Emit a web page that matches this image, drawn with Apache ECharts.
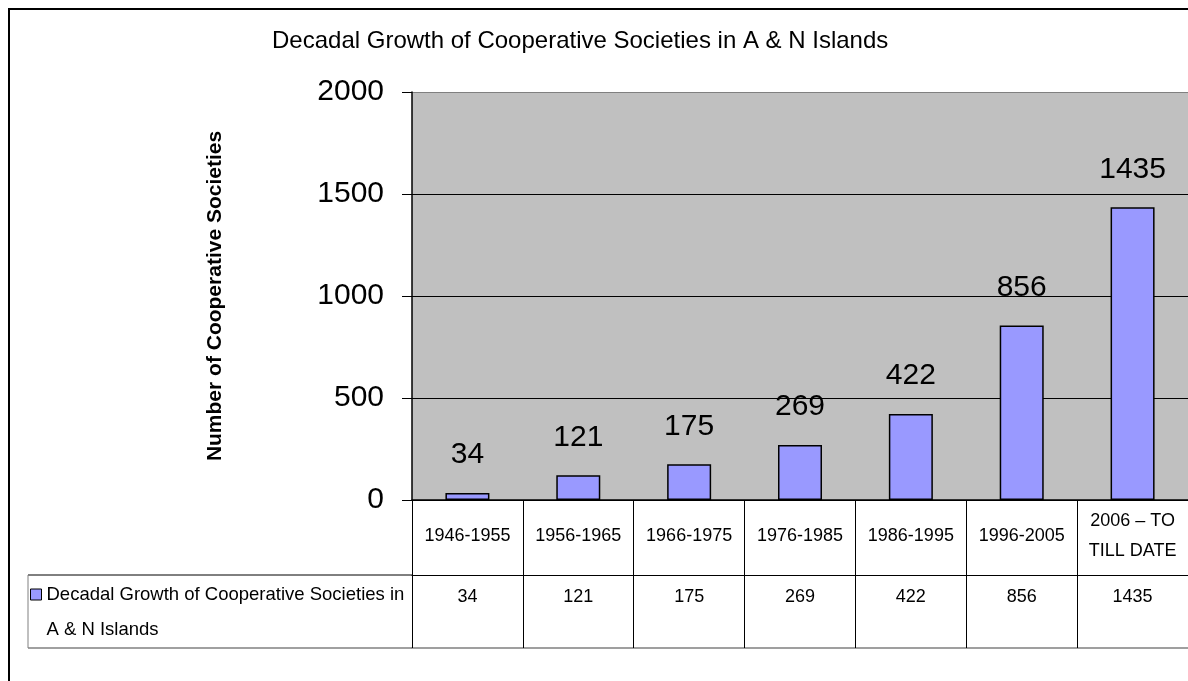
<!DOCTYPE html>
<html>
<head>
<meta charset="utf-8">
<script src="https://cdn.jsdelivr.net/npm/echarts@6/dist/echarts.min.js"></script>
<style>html,body{margin:0;padding:0;background:#fff;}#c{width:1188px;height:681px;}</style>
</head>
<body>
<div id="c"></div>
<script>
const titleText = 'Decadal Growth of Cooperative Societies in A & N Islands';
const seriesName = 'Decadal Growth of Cooperative Societies in A & N Islands';
const yAxisName = 'Number of Cooperative Societies';
const categories = ['1946-1955', '1956-1965', '1966-1975', '1976-1985', '1986-1995', '1996-2005', '2006 \u2013 TO\nTILL DATE'];
const values = [34, 121, 175, 269, 422, 856, 1435];

const FONT = '"Liberation Sans", Arial, sans-serif';
const chart = echarts.init(document.getElementById('c'), null, {renderer: 'canvas'});

chart.setOption({
  animation: false,
  backgroundColor: '#fff',
  title: {
    text: titleText,
    left: 272,
    top: 29,
    padding: 0,
    textStyle: {fontFamily: FONT, fontSize: 24, fontWeight: 'normal', color: '#000'}
  },
  legend: {
    left: 30,
    top: 542,
    padding: 0,
    itemWidth: 11,
    itemHeight: 11,
    itemGap: 5,
    icon: 'rect',
    formatter: function (n) { return '\n' + n.replace(' A & N', '\nA & N'); },
    textStyle: {fontFamily: FONT, fontSize: 18.5, color: '#000', lineHeight: 35},
    itemStyle: {borderColor: '#000', borderWidth: 1}
  },
  grid: {
    left: 412, top: 92, width: 780, height: 408,
    show: true, backgroundColor: '#C0C0C0', borderWidth: 0
  },
  xAxis: [
    {
      type: 'category', data: categories, position: 'bottom',
      axisLine: {show: true, lineStyle: {color: '#000', width: 1.5}},
      axisTick: {show: true, length: 75, interval: 0, alignWithLabel: false, lineStyle: {color: '#000', width: 1}},
      axisLabel: {interval: 0, fontFamily: FONT, fontSize: 18, color: '#000', margin: 36, verticalAlign: 'middle', lineHeight: 30},
      splitLine: {show: false}
    },
    {
      type: 'category', data: values.map(String), position: 'bottom', offset: 75,
      axisLine: {show: true, lineStyle: {color: '#000', width: 1}},
      axisTick: {show: true, length: 73, interval: 0, alignWithLabel: false, lineStyle: {color: '#000', width: 1}},
      axisLabel: {interval: 0, fontFamily: FONT, fontSize: 18, color: '#000', margin: 13},
      splitLine: {show: false}
    },
    {
      type: 'category', data: categories, position: 'bottom', offset: 148,
      axisLine: {show: true, lineStyle: {color: '#808080', width: 1.5}},
      axisTick: {show: false},
      axisLabel: {show: false},
      splitLine: {show: false}
    }
  ],
  yAxis: {
    type: 'value', min: 0, max: 2000, interval: 500,
    name: yAxisName,
    nameLocation: 'middle',
    nameGap: 186,
    nameTextStyle: {fontFamily: FONT, fontSize: 21, fontWeight: 'bold', color: '#000'},
    axisLine: {show: true, lineStyle: {color: '#000', width: 1.5}},
    axisTick: {show: true, length: 10, lineStyle: {color: '#000'}},
    axisLabel: {fontFamily: FONT, fontSize: 30, color: '#000', margin: 28, formatter: function (v) { return String(v); }},
    splitLine: {show: true, lineStyle: {color: ['#000', '#000', '#000', '#000', '#808080'], width: 1.2}}
  },
  graphic: [
    {type: 'rect', shape: {x: 9, y: 9, width: 1210, height: 700}, style: {fill: null, stroke: '#000', lineWidth: 2}, silent: true},
    {type: 'line', shape: {x1: 28, y1: 575, x2: 412, y2: 575}, style: {stroke: '#000', lineWidth: 1}, silent: true},
    {type: 'line', shape: {x1: 28, y1: 648, x2: 412, y2: 648}, style: {stroke: '#808080', lineWidth: 1.5}, silent: true},
    {type: 'line', shape: {x1: 28, y1: 575, x2: 28, y2: 648}, style: {stroke: '#808080', lineWidth: 1}, silent: true}
  ],
  series: [{
    name: seriesName,
    type: 'bar',
    xAxisIndex: 0,
    data: values,
    barWidth: 44,
    itemStyle: {color: '#9999FF', borderColor: '#000', borderWidth: 1.5},
    label: {show: true, position: 'top', distance: 23, fontFamily: FONT, fontSize: 30, color: '#000'}
  }]
});
</script>
</body>
</html>
